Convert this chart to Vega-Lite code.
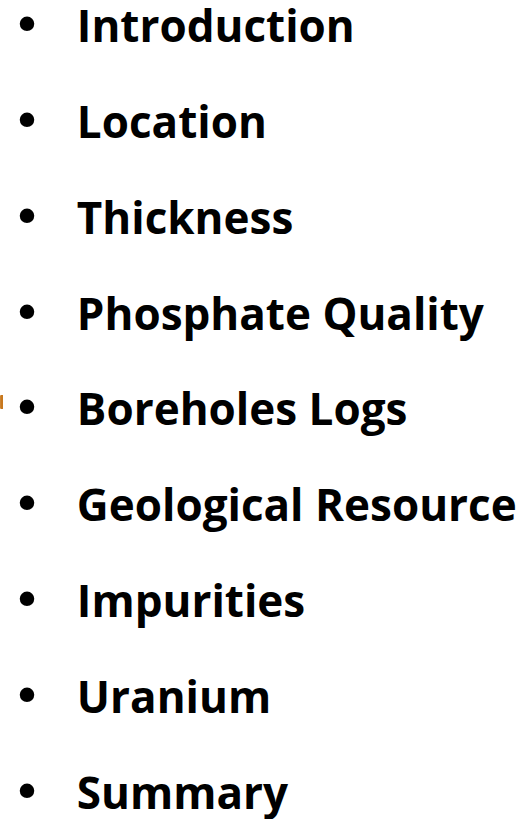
{
  "$schema": "https://vega.github.io/schema/vega-lite/v6.json",
  "width": 531,
  "height": 819,
  "autosize": {"type": "fit", "contains": "padding"},
  "padding": 0,
  "background": "white",
  "config": {"view": {"stroke": null}},
  "data": {"values": [
    {"order": 1, "label": "Introduction"},
    {"order": 2, "label": "Location"},
    {"order": 3, "label": "Thickness"},
    {"order": 4, "label": "Phosphate Quality"},
    {"order": 5, "label": "Boreholes Logs"},
    {"order": 6, "label": "Geological Resource"},
    {"order": 7, "label": "Impurities"},
    {"order": 8, "label": "Uranium"},
    {"order": 9, "label": "Summary"}
  ]},
  "encoding": {
    "y": {"field": "order", "type": "quantitative", "scale": {"domain": [0.5625, 9.094], "reverse": true, "nice": false, "zero": false}, "axis": null}
  },
  "layer": [
    {
      "mark": {"type": "text", "text": "•", "font": "DejaVu Sans", "fontSize": 50, "align": "center", "baseline": "alphabetic", "color": "black"},
      "encoding": {
        "x": {"datum": 0, "type": "quantitative", "scale": {"domain": [-0.5, 9.71], "nice": false, "zero": false}, "axis": null}
      }
    },
    {
      "mark": {"type": "text", "font": "Open Sans", "fontWeight": "bold", "fontSize": 44, "align": "left", "baseline": "alphabetic", "color": "black", "dx": -2},
      "encoding": {
        "x": {"datum": 1, "type": "quantitative"},
        "text": {"field": "label"}
      }
    },
    {
      "mark": {"type": "rule", "color": "#c8781e", "strokeWidth": 2},
      "encoding": {
        "x": {"datum": -0.485, "type": "quantitative"},
        "y": {"datum": 4.6875, "type": "quantitative"},
        "y2": {"datum": 4.8229}
      }
    }
  ]
}
